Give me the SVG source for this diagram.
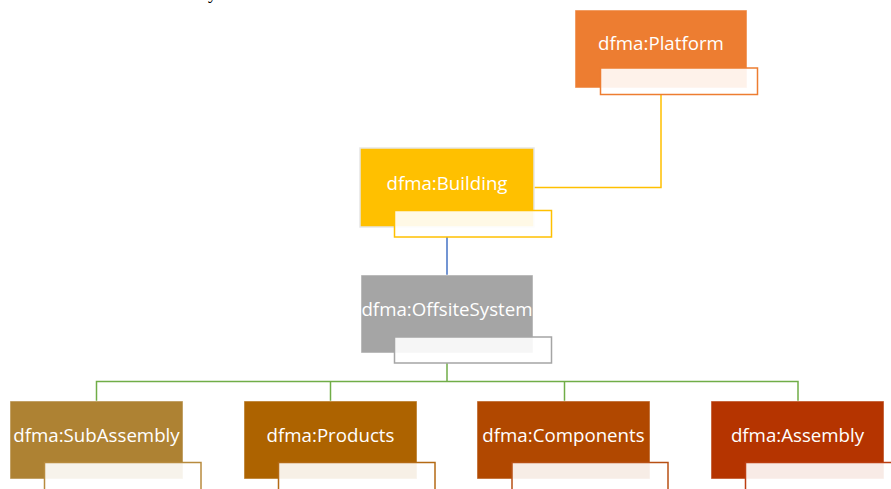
<svg xmlns="http://www.w3.org/2000/svg" width="891" height="489" viewBox="0 0 891 489">
  <style>
    .main { stroke: #ffffff; stroke-opacity: 0.5; stroke-width: 1; }
    .sub { fill: #ffffff; fill-opacity: 0.9; stroke-width: 1.5; }
    .label { font-family: "Open Sans", "Noto Sans", sans-serif; font-size: 18.7px; fill: #ffffff; text-anchor: middle; }
    .wire { fill: none; stroke-width: 1.5; }
  </style>
  <rect width="891" height="489" fill="#ffffff"/>

  <!-- clipped line of body text above the chart -->
  <text x="208" y="-1" font-family="Liberation Serif, serif" font-size="18" fill="#000000">y</text>

  <!-- connectors -->
  <g id="connectors">
    <polyline class="wire" stroke="#FFC000" points="661,95 661,187.5 534,187.5"/>
    <line class="wire" stroke="#4472C4" x1="447" y1="237" x2="447" y2="275"/>
    <polyline class="wire" stroke="#70AD47" points="447,363 447,381.5"/>
    <polyline class="wire" stroke="#70AD47" points="96.5,401 96.5,381.5 798,381.5 798,401"/>
    <line class="wire" stroke="#70AD47" x1="330.5" y1="381.5" x2="330.5" y2="401"/>
    <line class="wire" stroke="#70AD47" x1="564.5" y1="381.5" x2="564.5" y2="401"/>
  </g>

  <g id="platform">
    <rect class="main" x="575" y="10" width="172" height="78" fill="#ED7D31"/>
    <text class="label" x="661" y="49.5">dfma:Platform</text>
    <rect class="sub" x="600.5" y="68" width="157" height="26.5" stroke="#ED7D31"/>
  </g>

  <g id="building">
    <rect x="360" y="148" width="174" height="79" fill="#FFC000" stroke="#E6E6E6" stroke-width="1.5"/>
    <text class="label" x="447" y="189.5">dfma:Building</text>
    <rect class="sub" x="394.5" y="210.5" width="157" height="26.5" stroke="#FFC000"/>
  </g>

  <g id="offsite-system">
    <rect class="main" x="361" y="275" width="172" height="78" fill="#A5A5A5"/>
    <text class="label" x="447" y="315.5">dfma:OffsiteSystem</text>
    <rect class="sub" x="394.5" y="337" width="157" height="26" stroke="#A5A5A5"/>
  </g>

  <g id="sub-assembly">
    <rect class="main" x="10" y="401" width="173" height="78" fill="#AE8233"/>
    <text class="label" x="96.5" y="442">dfma:SubAssembly</text>
    <rect class="sub" x="44.5" y="462.5" width="156.5" height="30" stroke="#B88B3E"/>
  </g>

  <g id="products">
    <rect class="main" x="244" y="401" width="173" height="78" fill="#AD6300"/>
    <text class="label" x="330.5" y="442">dfma:Products</text>
    <rect class="sub" x="278.5" y="462.5" width="156.5" height="30" stroke="#B46A14"/>
  </g>

  <g id="components">
    <rect class="main" x="477" y="401" width="173" height="78" fill="#B14800"/>
    <text class="label" x="563.5" y="442">dfma:Components</text>
    <rect class="sub" x="512" y="462.5" width="156" height="30" stroke="#B85014"/>
  </g>

  <g id="assembly">
    <rect class="main" x="711" y="401" width="173" height="78" fill="#B53400"/>
    <text class="label" x="797.5" y="442">dfma:Assembly</text>
    <rect class="sub" x="745.5" y="462.5" width="156" height="30" stroke="#BC3E10"/>
  </g>
</svg>
